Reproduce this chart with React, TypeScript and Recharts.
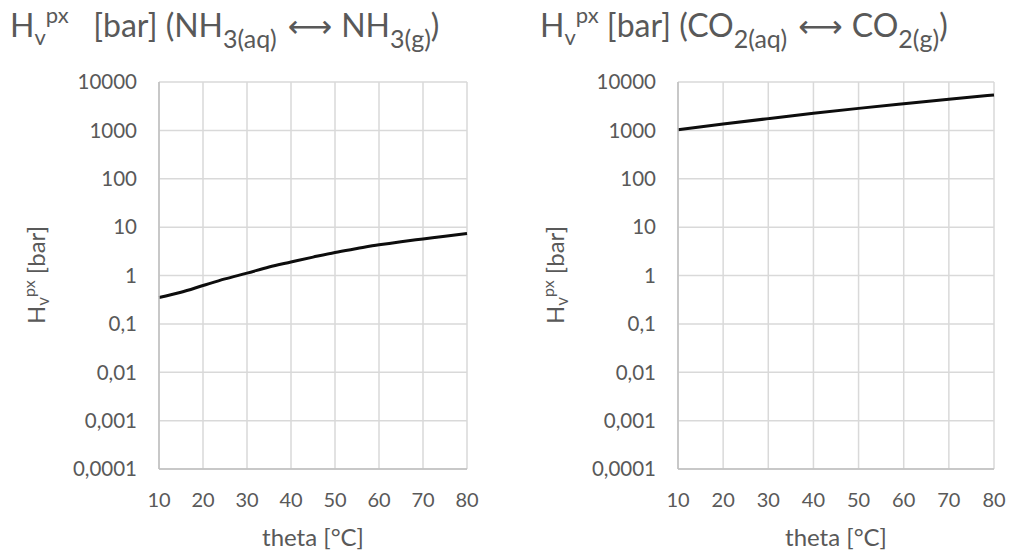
import React from "react";
import { CartesianGrid, Line, LineChart, XAxis, YAxis } from "recharts";

const nh3Theta = [10, 15, 20, 25, 30, 35, 40, 45, 50, 55, 60, 65, 70, 75, 80];
const nh3Hpx = [0.35, 0.45, 0.62, 0.85, 1.12, 1.5, 1.9, 2.4, 3.0, 3.6, 4.3, 5.0, 5.7, 6.5, 7.4];

const co2Theta = [10, 20, 30, 40, 50, 60, 70, 80];
const co2Hpx = [1030, 1350, 1750, 2250, 2850, 3550, 4400, 5400];

const xTicks = [10, 20, 30, 40, 50, 60, 70, 80];
const yTicks = [0.0001, 0.001, 0.01, 0.1, 1, 10, 100, 1000, 10000];

const FONT = "Lato, 'Open Sans', sans-serif";
const TEXT = "#595959";

const fmtY = (v: number) => String(v).replace(".", ",");

function Panel({
  theta,
  values,
  yAxisWidth,
  rightMargin,
}: {
  theta: number[];
  values: number[];
  yAxisWidth: number;
  rightMargin: number;
}) {
  const data = theta.map((t, i) => ({ t, h: values[i] }));
  return (
    <LineChart
      width={505}
      height={553}
      data={data}
      margin={{ top: 82, right: rightMargin, left: 0, bottom: 44 }}
    >
      <CartesianGrid stroke="#d9d9d9" strokeWidth={1.5} />
      <XAxis
        dataKey="t"
        type="number"
        domain={[10, 80]}
        ticks={xTicks}
        height={40}
        tickSize={0}
        tickMargin={24}
        axisLine={{ stroke: "#bfbfbf", strokeWidth: 1.5 }}
        tick={{ fill: TEXT, fontSize: 20, fontFamily: FONT }}
      />
      <YAxis
        type="number"
        scale="log"
        domain={[0.0001, 10000]}
        allowDataOverflow
        ticks={yTicks}
        tickFormatter={fmtY}
        width={yAxisWidth}
        tickSize={0}
        tickMargin={22}
        axisLine={{ stroke: "#bfbfbf", strokeWidth: 1.5 }}
        tick={{ fill: TEXT, fontSize: 20.5, fontFamily: FONT }}
      />
      <Line
        type="monotone"
        dataKey="h"
        stroke="#0d0d0d"
        strokeWidth={3}
        dot={false}
        isAnimationActive={false}
      />
    </LineChart>
  );
}

// shifted inline text that does not grow the line box
function Shift({ dy, size, children }: { dy: number; size: number; children: React.ReactNode }) {
  return (
    <span style={{ position: "relative", top: dy, fontSize: size, verticalAlign: "baseline" }}>
      {children}
    </span>
  );
}

function YLabel({ left }: { left: number }) {
  return (
    <div
      style={{
        position: "absolute",
        left,
        top: 275,
        transform: "translate(-50%, -50%) rotate(-90deg)",
        whiteSpace: "nowrap",
        fontSize: 24,
        lineHeight: "28px",
        color: TEXT,
        fontFamily: FONT,
      }}
    >
      H<Shift dy={4} size={17}>v</Shift>
      <Shift dy={-10} size={16}>px</Shift> [bar]
    </div>
  );
}

function XLabel({ center }: { center: number }) {
  return (
    <div
      style={{
        position: "absolute",
        left: center,
        top: 524,
        transform: "translateX(-50%)",
        whiteSpace: "nowrap",
        fontSize: 24,
        lineHeight: "26px",
        color: TEXT,
        fontFamily: FONT,
      }}
    >
      theta [°C]
    </div>
  );
}

const titleStyle: React.CSSProperties = {
  position: "absolute",
  top: 6,
  fontSize: 32,
  color: TEXT,
  whiteSpace: "nowrap",
  lineHeight: "38px",
};

const arrowStyle: React.CSSProperties = {
  fontFamily: "'DejaVu Sans', sans-serif",
  fontSize: 31,
  margin: "0 9px 0 11px",
};

export default function App() {
  return (
    <div
      style={{
        position: "absolute",
        left: 0,
        top: 0,
        width: 1010,
        height: 553,
        background: "#fff",
        fontFamily: FONT,
      }}
    >
      <div style={{ position: "absolute", left: 0, top: 0 }}>
        <Panel theta={nh3Theta} values={nh3Hpx} yAxisWidth={159} rightMargin={38} />
      </div>
      <div style={{ position: "absolute", left: 505, top: 0 }}>
        <Panel theta={co2Theta} values={co2Hpx} yAxisWidth={173} rightMargin={16} />
      </div>

      <div style={{ ...titleStyle, left: 10 }}>
        H<Shift dy={8} size={22}>v</Shift>
        <Shift dy={-14} size={22}>px</Shift>&nbsp;&nbsp;&nbsp;[bar] (NH
        <Shift dy={11} size={25}>3(aq)</Shift>
        <span style={arrowStyle}>⟷</span>NH<Shift dy={11} size={25}>3(g)</Shift>)
      </div>
      <div style={{ ...titleStyle, left: 540 }}>
        H<Shift dy={8} size={22}>v</Shift>
        <Shift dy={-14} size={22}>px</Shift> [bar] (CO<Shift dy={11} size={25}>2(aq)</Shift>
        <span style={arrowStyle}>⟷</span>CO<Shift dy={11} size={25}>2(g)</Shift>)
      </div>

      <YLabel left={37} />
      <YLabel left={556} />
      <XLabel center={313} />
      <XLabel center={836} />
    </div>
  );
}
